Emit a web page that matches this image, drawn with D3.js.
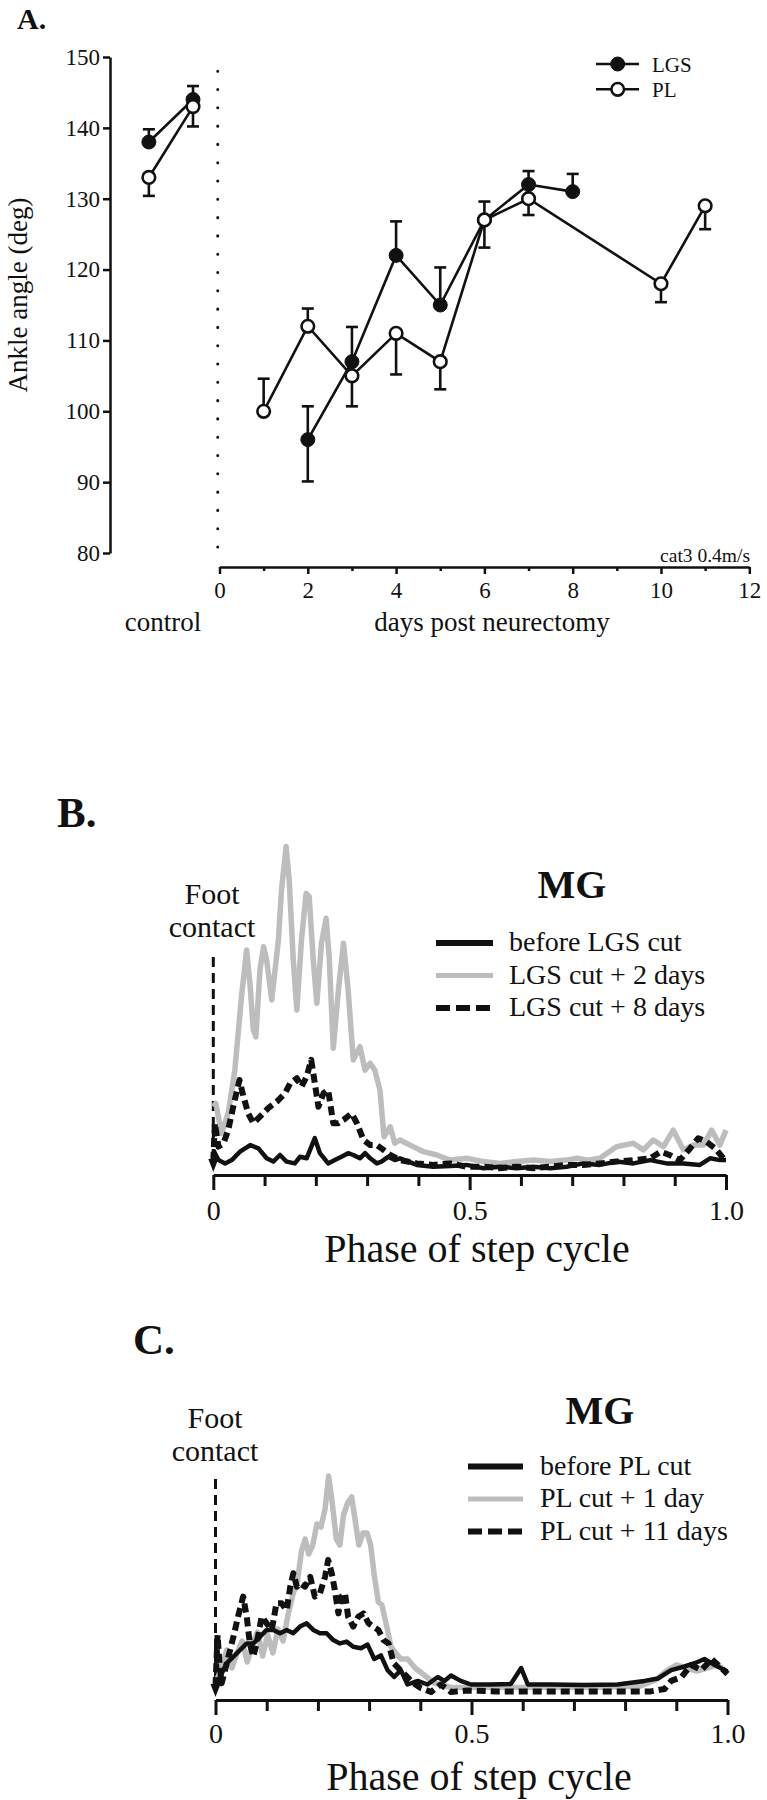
<!DOCTYPE html>
<html>
<head>
<meta charset="utf-8">
<script src="https://cdn.jsdelivr.net/npm/d3@7"></script>
<style>
html,body{margin:0;padding:0;background:#fff;}
svg{display:block;}
text{font-family:"Liberation Serif","Times New Roman",Times,serif;fill:#111;}
</style>
</head>
<body>
<svg id="chart" width="767" height="1800"></svg>
<script>
// ================= Panel A data =================
const aYTicks = [80, 90, 100, 110, 120, 130, 140, 150];
const aXTicks = [0, 2, 4, 6, 8, 10, 12];
const aXMinorTicks = [1, 3, 5, 7, 9, 11];
const controlPos = [-1.6, -0.6];
const lgsControl = [138, 144];
const lgsControlErrUp = [1.8, 1.9];
const plControl = [133, 143];
const plControlErrDown = [2.6, 2.8];
const lgsDays = [2, 3, 4, 5, 6, 7, 8];
const lgsAngle = [96, 107, 122, 115, 127, 132, 131];
const lgsErrUp = [4.7, 4.9, 4.8, 5.3, 2.6, 1.9, 2.5];
const lgsErrDown = [5.9, 0, 0, 0, 0, 0, 0];
const plDays = [1, 2, 3, 4, 5, 6, 7, 10, 11];
const plAngle = [100, 112, 105, 111, 107, 127, 130, 118, 129];
const plErrUp = [4.6, 2.5, 0, 0, 0, 0, 0, 0, 0];
const plErrDown = [0, 0, 4.3, 5.8, 3.9, 3.9, 2.3, 2.6, 3.3];
const aLegend = ["LGS", "PL"];

// ================= Panels B / C shared =================
const phaseMinorTicks = [0.1, 0.2, 0.3, 0.4, 0.6, 0.7, 0.8, 0.9];
const phaseMajorTicks = [0, 0.5, 1.0];
const phaseTickLabels = ["0", "0.5", "1.0"];

// ================= Panel B data (MG, LGS cut) =================
const bLegend = ["before LGS cut", "LGS cut + 2 days", "LGS cut + 8 days"];
const bBeforePhase = [0,0.010,0.023,0.036,0.052,0.072,0.088,0.104,0.117,0.130,0.143,0.159,0.169,0.182,0.198,0.208,0.224,0.237,0.250,0.263,0.273,0.286,0.296,0.306,0.319,0.328,0.341,0.354,0.364,0.397,0.429,0.462,0.494,0.527,0.559,0.592,0.624,0.657,0.689,0.722,0.754,0.787,0.819,0.852,0.884,0.917,0.949,0.969,0.988,1.0];
const bBeforeAmp = [6.7,3.3,2.2,3.3,6.1,8.3,7.2,3.9,2.8,5,2.8,2.2,4.4,3.9,10.6,5.6,2.2,3.3,4.4,5.6,5,3.9,5.6,3.9,2.2,2.8,4.4,3.3,3.9,1.7,1.1,1.3,1.7,0.6,1.1,0.6,1.1,0.6,1.1,2.2,1.7,2.8,2.2,3.3,2.2,2.2,1.7,3.9,3.3,3.3];
const bDay2Phase = [0,0.005,0.016,0.029,0.042,0.055,0.065,0.072,0.078,0.083,0.091,0.098,0.104,0.114,0.127,0.133,0.142,0.148,0.156,0.163,0.172,0.181,0.187,0.195,0.202,0.211,0.220,0.226,0.234,0.244,0.254,0.263,0.273,0.286,0.296,0.306,0.315,0.325,0.333,0.345,0.354,0.364,0.384,0.410,0.436,0.462,0.494,0.527,0.559,0.592,0.624,0.657,0.689,0.709,0.731,0.754,0.787,0.819,0.839,0.858,0.878,0.897,0.917,0.936,0.956,0.972,0.988,1.0];
const bDay2Amp = [21.1,22.2,12.2,18.9,33.3,57.8,73.3,61.1,46.7,44.4,66.7,74.4,70,56.7,76.7,93.3,107.8,96.7,70,53.3,76.7,92.2,91.1,70,55.6,75.6,83.9,71.1,40.6,60,75.6,60,36.7,41.1,33.3,35.6,33.3,26.7,11.1,14.4,8.9,10,8.3,6.1,5,3.3,3.9,2.8,2.2,2.8,3.3,2.8,3.3,3.9,3.3,3.9,7.8,8.9,6.7,10,7.8,13.3,6.7,8.3,8.3,13.3,8.3,13.3];
const bDay8Phase = [0,0.003,0.010,0.020,0.029,0.039,0.051,0.059,0.068,0.078,0.091,0.107,0.124,0.140,0.150,0.163,0.172,0.182,0.191,0.198,0.205,0.215,0.224,0.234,0.244,0.254,0.270,0.280,0.293,0.306,0.319,0.332,0.345,0.358,0.364,0.397,0.429,0.462,0.494,0.527,0.559,0.592,0.624,0.657,0.689,0.722,0.754,0.787,0.819,0.852,0.873,0.890,0.910,0.930,0.946,0.962,0.979,0.995];
const bDay8Amp = [3,15.6,7.8,8.9,13.3,21.1,30,24.4,18.9,15.6,17.8,20.6,22.8,25.6,28.9,30.6,27.8,31.1,36.7,28.9,21.1,25.6,26.7,15.6,15.6,16.7,18.9,15.6,10,8.3,8.3,6.7,5,3.9,3.3,2.2,1.7,2.2,1.1,1.1,0.6,1.1,0.6,1.1,1.7,1.7,2.2,2.8,3.3,3.9,6.1,5,3.3,7.2,10.6,9.4,7.2,3.9];

// ================= Panel C data (MG, PL cut) =================
const cLegend = ["before PL cut", "PL cut + 1 day", "PL cut + 11 days"];
const cBeforePhase = [0,0.009,0.022,0.035,0.048,0.061,0.074,0.087,0.100,0.113,0.126,0.139,0.152,0.165,0.178,0.191,0.204,0.217,0.230,0.243,0.256,0.269,0.284,0.297,0.310,0.323,0.336,0.349,0.362,0.375,0.395,0.414,0.434,0.447,0.460,0.479,0.499,0.538,0.577,0.597,0.610,0.655,0.720,0.785,0.838,0.864,0.890,0.916,0.936,0.955,0.975,0.994,1.0];
const cBeforeAmp = [2.8,6.1,10.6,12.8,15,17.2,17.2,19.4,21.7,21.7,20.6,21.7,20.6,22.8,23.9,21.7,20.6,20.6,18.3,17.2,17.8,16.1,15.6,16.8,12,13.2,8.3,6,8.3,3.5,4.7,3.5,6,4.7,6.5,4.7,3.5,3.5,3.7,9,3.5,3.5,3.3,3.5,4.7,5.5,8.3,9.5,10.6,12,10,8.3,7.8];
const cDay1Phase = [0,0.012,0.022,0.032,0.042,0.052,0.062,0.072,0.082,0.092,0.102,0.112,0.122,0.132,0.142,0.152,0.160,0.168,0.175,0.182,0.190,0.198,0.206,0.214,0.221,0.228,0.236,0.243,0.250,0.258,0.266,0.273,0.280,0.288,0.296,0.303,0.310,0.318,0.325,0.333,0.343,0.352,0.362,0.375,0.390,0.405,0.427,0.46,0.55,0.65,0.75,0.83,0.86,0.88,0.90,0.92,0.94,0.96,0.98,0.99];
const cDay1Amp = [4,9,15,9,14,18,11,17,21,13,20,14,22,18,27,34,38,48,52,47,50,57,56,62,73,64,52,50,60,64,66,58,50,54,54,50,40,31,30,24,16,14,12,12,9,7,4,2.5,2.5,2.5,2.5,3,5,8,10,9,8,9,10,9];
const cDay11Phase = [0,0.004,0.008,0.012,0.022,0.035,0.044,0.054,0.061,0.067,0.074,0.083,0.090,0.100,0.110,0.119,0.129,0.139,0.146,0.152,0.159,0.165,0.175,0.185,0.194,0.204,0.214,0.220,0.227,0.233,0.240,0.246,0.253,0.259,0.269,0.279,0.289,0.299,0.308,0.318,0.328,0.338,0.348,0.361,0.374,0.387,0.401,0.421,0.440,0.460,0.492,0.55,0.65,0.75,0.85,0.877,0.890,0.910,0.929,0.949,0.969,0.988,1.0];
const cDay11Amp = [3,20,10,3.9,10.6,19.4,26.1,32.8,26.1,17.2,12.8,19.4,26.1,23.9,21.7,30.6,30.6,28.3,36.1,40.6,36.1,37.2,36.1,39.4,32.8,33.9,39.4,45,40.6,35,27.2,32.8,33.9,26.1,22.8,26.1,27.2,23.9,22.8,21.7,18.3,17.2,10.6,8.3,6.1,3.9,2.3,1,3.5,1,1.5,1.2,1.2,1.2,1.2,2,4.7,6,10,8.3,12,9,7];

// ================= Drawing =================
const FONT = '"Liberation Serif","Times New Roman",Times,serif';
const INK = "#111";
const svg = d3.select("#chart");

function txt(g, x, y, s, size, anchor, weight) {
  return g.append("text").attr("x", x).attr("y", y).text(s)
    .attr("font-size", size).attr("text-anchor", anchor || "start")
    .attr("font-weight", weight || "normal").attr("font-family", FONT).attr("fill", INK);
}
function styleAxis(g, size, w) {
  g.attr("font-family", FONT).attr("font-size", size);
  g.select(".domain").attr("stroke", INK).attr("stroke-width", w);
  g.selectAll(".tick line").attr("stroke", INK).attr("stroke-width", w);
  g.selectAll(".tick text").attr("fill", INK);
}

// ---------- Panel A ----------
const gA = svg.append("g");
const xA = d3.scaleLinear().domain([0, 12]).range([219.5, 749.3]);
const yA = d3.scaleLinear().domain([80, 150]).range([553, 57]);

txt(gA, 17, 29, "A.", 30, "start", "bold");

const yAxA = gA.append("g").attr("transform", "translate(110,0)")
  .call(d3.axisLeft(yA).tickValues(aYTicks).tickSize(7).tickSizeOuter(0).tickPadding(3));
styleAxis(yAxA, 23, 2.5);

const xAxA = gA.append("g").attr("transform", "translate(0,567)")
  .call(d3.axisBottom(xA).tickValues(aXTicks).tickSize(7).tickSizeOuter(0).tickFormat(d3.format("d")));
styleAxis(xAxA, 23, 2.5);
xAxA.selectAll(".tick text").attr("y", 31).attr("dy", 0);
const xAxAm = gA.append("g").attr("transform", "translate(0,567)")
  .call(d3.axisBottom(xA).tickValues(aXMinorTicks).tickSize(4).tickFormat(""));
styleAxis(xAxAm, 23, 2.5);
xAxAm.select(".domain").remove();

// dotted separator between control and post-neurectomy
gA.append("line").attr("x1", xA(-0.04)).attr("x2", xA(-0.04))
  .attr("y1", yA(148)).attr("y2", 565)
  .attr("stroke", INK).attr("stroke-width", 3).attr("stroke-linecap", "round")
  .attr("stroke-dasharray", "0.1,18.2");

const lineA = d3.line().x(d => xA(d[0])).y(d => yA(d[1]));
function drawSeriesA(xs, ys, up, down) {
  const pts = xs.map((d, i) => [d, ys[i]]);
  gA.append("path").attr("d", lineA(pts)).attr("fill", "none")
    .attr("stroke", INK).attr("stroke-width", 2.6);
  const eb = gA.append("g").attr("stroke", INK).attr("stroke-width", 2.6);
  xs.forEach((d, i) => {
    [[up[i], 1], [down[i], -1]].forEach(([e, s]) => {
      if (!e) return;
      const yEnd = yA(ys[i] + s * e);
      eb.append("line").attr("x1", xA(d)).attr("x2", xA(d)).attr("y1", yA(ys[i])).attr("y2", yEnd);
      eb.append("line").attr("x1", xA(d) - 6).attr("x2", xA(d) + 6).attr("y1", yEnd).attr("y2", yEnd);
    });
  });
  return pts;
}
const zeros2 = [0, 0];
const ptsLc = drawSeriesA(controlPos, lgsControl, lgsControlErrUp, zeros2);
const ptsPc = drawSeriesA(controlPos, plControl, zeros2, plControlErrDown);
const ptsL = drawSeriesA(lgsDays, lgsAngle, lgsErrUp, lgsErrDown);
const ptsP = drawSeriesA(plDays, plAngle, plErrUp, plErrDown);

function markers(pts, filled) {
  gA.append("g").selectAll("circle").data(pts).join("circle")
    .attr("cx", d => xA(d[0])).attr("cy", d => yA(d[1]))
    .attr("r", filled ? 7 : 6.3)
    .attr("fill", filled ? INK : "#fff").attr("stroke", INK).attr("stroke-width", filled ? 1 : 2.6);
}
markers(ptsLc, true); markers(ptsL, true);
markers(ptsPc, false); markers(ptsP, false);

// legend A
aLegend.forEach((name, i) => {
  const y = 64 + i * 25.3;
  gA.append("line").attr("x1", 596).attr("x2", 639).attr("y1", y).attr("y2", y)
    .attr("stroke", INK).attr("stroke-width", 2.6);
  gA.append("circle").attr("cx", 617.7).attr("cy", y).attr("r", i === 0 ? 7 : 6.3)
    .attr("fill", i === 0 ? INK : "#fff").attr("stroke", INK).attr("stroke-width", i === 0 ? 1 : 2.6);
  txt(gA, 652, y + 7.5, name, 21);
});

txt(gA, 27, 295, "Ankle angle (deg)", 27, "middle").attr("transform", "rotate(-90,27,295)");
txt(gA, 163, 631, "control", 27, "middle");
txt(gA, 492, 631, "days post neurectomy", 27, "middle");
txt(gA, 750, 561.5, "cat3 0.4m/s", 19.5, "end");

// ---------- Panels B & C ----------
function drawEmg(cfg) {
  const g = svg.append("g");
  const x = d3.scaleLinear().domain([0, 1]).range(cfg.xr);
  const y = d3.scaleLinear().domain(cfg.yd).range(cfg.yr);
  txt(g, cfg.letterX, cfg.letterY, cfg.letter, 43, "start", "bold");

  const ax = g.append("g").attr("transform", `translate(0,${cfg.axisY})`)
    .call(d3.axisBottom(x).tickValues(phaseMajorTicks).tickSize(15).tickSizeOuter(0)
      .tickFormat((d, i) => phaseTickLabels[i]));
  styleAxis(ax, 28, 3);
  ax.selectAll(".tick text").attr("y", cfg.labelOff).attr("dy", 0);
  const axm = g.append("g").attr("transform", `translate(0,${cfg.axisY})`)
    .call(d3.axisBottom(x).tickValues(phaseMinorTicks).tickSize(11).tickFormat(""));
  styleAxis(axm, 28, 3);
  axm.select(".domain").remove();

  txt(g, cfg.titleX, cfg.titleY, "Phase of step cycle", 40, "middle");

  // foot contact marker
  g.append("line").attr("x1", x(0)).attr("x2", x(0)).attr("y1", cfg.fcTop).attr("y2", y(0) - 8)
    .attr("stroke", INK).attr("stroke-width", 3).attr("stroke-dasharray", "10,6");
  const tip = y(0) + 2;
  g.append("path").attr("d", `M${x(0) - 5},${tip - 13}L${x(0) + 5},${tip - 13}L${x(0)},${tip}Z`).attr("fill", INK);
  txt(g, cfg.fcX, cfg.fcY, "Foot", 30, "middle");
  txt(g, cfg.fcX, cfg.fcY + 33, "contact", 30, "middle");

  const line = d3.line().x(d => x(d[0])).y(d => y(d[1]));
  const styles = [
    { stroke: INK, w: 4.5, dash: null },
    { stroke: "#bdbdbd", w: 5.5, dash: null },
    { stroke: INK, w: 6, dash: "9,5" }
  ];
  [1, 2, 0].forEach(k => {
    const s = cfg.series[k];
    const pts = s.p.map((d, i) => [d, s.a[i]]);
    g.append("path").attr("d", line(pts)).attr("fill", "none")
      .attr("stroke", styles[k].stroke).attr("stroke-width", styles[k].w)
      .attr("stroke-linejoin", "round")
      .attr("stroke-dasharray", styles[k].dash);
  });

  txt(g, cfg.mgX, cfg.mgY, "MG", 40, "middle", "bold");
  cfg.legend.forEach((name, i) => {
    const ly = cfg.legY + i * 32.5;
    g.append("line").attr("x1", cfg.legX1).attr("x2", cfg.legX2).attr("y1", ly).attr("y2", ly)
      .attr("stroke", styles[i].stroke).attr("stroke-width", i === 1 ? 5 : 6)
      .attr("stroke-dasharray", i === 2 ? "14,6" : null);
    txt(g, cfg.legTextX, ly + 8.3, name, 28);
  });
}

drawEmg({
  letter: "B.", letterX: 57, letterY: 827,
  xr: [213.3, 726], yd: [0, 110], yr: [1170, 840],
  axisY: 1175, labelOff: 45, titleX: 477, titleY: 1262,
  fcTop: 957, fcX: 212, fcY: 904,
  mgX: 572, mgY: 898, legY: 943, legX1: 436, legX2: 493, legTextX: 509,
  legend: bLegend,
  series: [
    { p: bBeforePhase, a: bBeforeAmp },
    { p: bDay2Phase, a: bDay2Amp },
    { p: bDay8Phase, a: bDay8Amp }
  ]
});

drawEmg({
  letter: "C.", letterX: 133, letterY: 1354,
  xr: [215.5, 727.5], yd: [0, 75], yr: [1695, 1470],
  axisY: 1700, labelOff: 43, titleX: 479, titleY: 1790,
  fcTop: 1479, fcX: 215, fcY: 1428,
  mgX: 600, mgY: 1424, legY: 1466.5, legX1: 468, legX2: 523, legTextX: 540,
  legend: cLegend,
  series: [
    { p: cBeforePhase, a: cBeforeAmp },
    { p: cDay1Phase, a: cDay1Amp },
    { p: cDay11Phase, a: cDay11Amp }
  ]
});
</script>
</body>
</html>
